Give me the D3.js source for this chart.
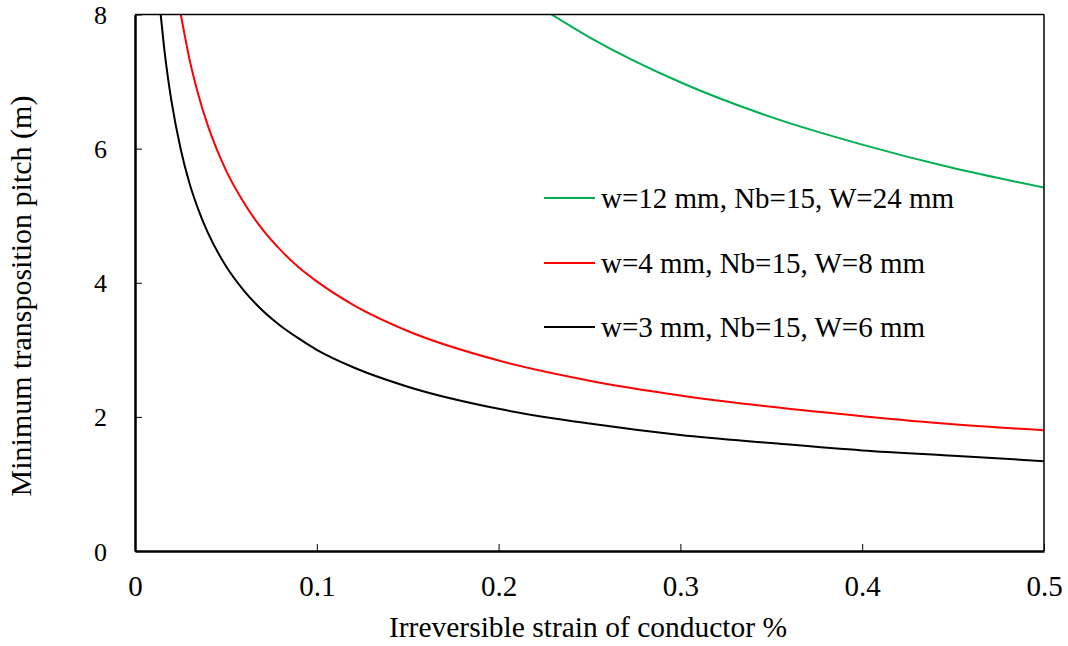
<!DOCTYPE html>
<html>
<head>
<meta charset="utf-8">
<script src="https://cdn.jsdelivr.net/npm/d3@7"></script>
<style>
  html, body { margin: 0; padding: 0; background: #fff; }
  svg { display: block; }
</style>
</head>
<body>
<svg id="chart" width="1068" height="646"></svg>
<script>
// Strain values (%)
const strainBlack = [0.014, 0.016, 0.018, 0.02, 0.025, 0.03, 0.035, 0.04, 0.05, 0.06, 0.07, 0.08, 0.09, 0.1, 0.12, 0.15, 0.2, 0.25, 0.3, 0.35, 0.4, 0.45, 0.5];
const pitchBlack  = [8.03, 7.51, 7.08, 6.72, 6.01, 5.48, 5.08, 4.75, 4.25, 3.88, 3.59, 3.36, 3.17, 3.00, 2.74, 2.45, 2.12, 1.90, 1.73, 1.61, 1.50, 1.42, 1.34];

const strainRed = [0.025, 0.03, 0.035, 0.04, 0.045, 0.05, 0.06, 0.07, 0.08, 0.09, 0.1, 0.12, 0.15, 0.2, 0.25, 0.3, 0.35, 0.4, 0.45, 0.5];
const pitchRed  = [8.03, 7.33, 6.79, 6.35, 5.99, 5.68, 5.19, 4.80, 4.49, 4.23, 4.02, 3.67, 3.28, 2.84, 2.54, 2.32, 2.15, 2.01, 1.89, 1.80];

const strainGreen = [0.228, 0.25, 0.3, 0.35, 0.4, 0.45, 0.5];
const pitchGreen  = [8.02, 7.66, 6.99, 6.47, 6.06, 5.71, 5.42];

const seriesNames  = ["w=12 mm, Nb=15, W=24 mm", "w=4 mm, Nb=15, W=8 mm", "w=3 mm, Nb=15, W=6 mm"];
const seriesColors = ["#00b050", "#ff0000", "#000000"];

const xTicks = [0, 0.1, 0.2, 0.3, 0.4, 0.5];
const xTickLabels = ["0", "0.1", "0.2", "0.3", "0.4", "0.5"];
const yTicks = [0, 2, 4, 6, 8];
const yTickLabels = ["0", "2", "4", "6", "8"];

const xTitle = "Irreversible strain of conductor %";
const yTitle = "Minimum transposition pitch (m)";

const FONT = "Liberation Serif";

const svg = d3.select("#chart");
const plot = { left: 135, right: 1044, top: 14.5, bottom: 551 };

const x = d3.scaleLinear().domain([0, 0.5]).range([plot.left, plot.right]);
const y = d3.scaleLinear().domain([0, 8]).range([plot.bottom, plot.top]);

svg.append("defs").append("clipPath").attr("id", "clip")
  .append("rect")
  .attr("x", plot.left).attr("y", plot.top)
  .attr("width", plot.right - plot.left).attr("height", plot.bottom - plot.top);

// curves
const series = [
  { xs: strainGreen, ys: pitchGreen, color: seriesColors[0] },
  { xs: strainRed, ys: pitchRed, color: seriesColors[1] },
  { xs: strainBlack, ys: pitchBlack, color: seriesColors[2] }
];
const line = d3.line().x(d => x(d[0])).y(d => y(d[1])).curve(d3.curveMonotoneX);
const gLines = svg.append("g").attr("clip-path", "url(#clip)");
series.forEach(s => {
  gLines.append("path")
    .datum(s.xs.map((v, i) => [v, s.ys[i]]))
    .attr("fill", "none")
    .attr("stroke", s.color)
    .attr("stroke-width", 2)
    .attr("d", line);
});

// frame (top & right)
svg.append("line").attr("x1", plot.left).attr("x2", plot.right).attr("y1", plot.top).attr("y2", plot.top)
  .attr("stroke", "#000").attr("stroke-width", 1.5);
svg.append("line").attr("x1", plot.right).attr("x2", plot.right).attr("y1", plot.top).attr("y2", plot.bottom)
  .attr("stroke", "#000").attr("stroke-width", 1.5);

// axes
const xAxis = d3.axisBottom(x).tickValues(xTicks).tickFormat((d, i) => xTickLabels[i])
  .tickSizeInner(-7).tickSizeOuter(0).tickPadding(24);
const gx = svg.append("g").attr("transform", `translate(0,${plot.bottom})`).call(xAxis)
  .attr("font-family", FONT).attr("font-size", 29);
gx.select(".domain").attr("stroke", "#000").attr("stroke-width", 2.5);
gx.selectAll(".tick line").attr("stroke", "#000").attr("stroke-width", 1);
gx.selectAll(".tick text").attr("font-family", FONT).attr("font-size", 29)
  .style("font-family", FONT).style("font-size", "29px").attr("fill", "#000");

const yAxis = d3.axisLeft(y).tickValues(yTicks).tickFormat((d, i) => yTickLabels[i])
  .tickSizeInner(-7).tickSizeOuter(0).tickPadding(28);
const gy = svg.append("g").attr("transform", `translate(${plot.left},0)`).call(yAxis)
  .attr("font-family", FONT).attr("font-size", 26);
gy.select(".domain").attr("stroke", "#000").attr("stroke-width", 2.5);
gy.selectAll(".tick line").attr("stroke", "#000").attr("stroke-width", 1);
gy.selectAll(".tick text").attr("font-family", FONT).attr("font-size", 26)
  .style("font-family", FONT).style("font-size", "26px").attr("fill", "#000").attr("dy", "0.35em");

// axis titles
svg.append("text").attr("x", 588).attr("y", 637).attr("text-anchor", "middle")
  .attr("font-family", FONT).attr("font-size", 29.5).text(xTitle);
svg.append("text").attr("transform", "translate(31,296) rotate(-90)").attr("text-anchor", "middle")
  .attr("font-family", FONT).attr("font-size", 30).text(yTitle);

// legend
const legendY = [198, 263, 327];
const legend = svg.append("g");
seriesNames.forEach((name, i) => {
  legend.append("line").attr("x1", 544).attr("x2", 595)
    .attr("y1", legendY[i]).attr("y2", legendY[i])
    .attr("stroke", seriesColors[i]).attr("stroke-width", 2);
  legend.append("text").attr("x", 601).attr("y", legendY[i]).attr("dy", "0.33em")
    .attr("font-family", FONT).attr("font-size", 29).text(name);
});
</script>
</body>
</html>
